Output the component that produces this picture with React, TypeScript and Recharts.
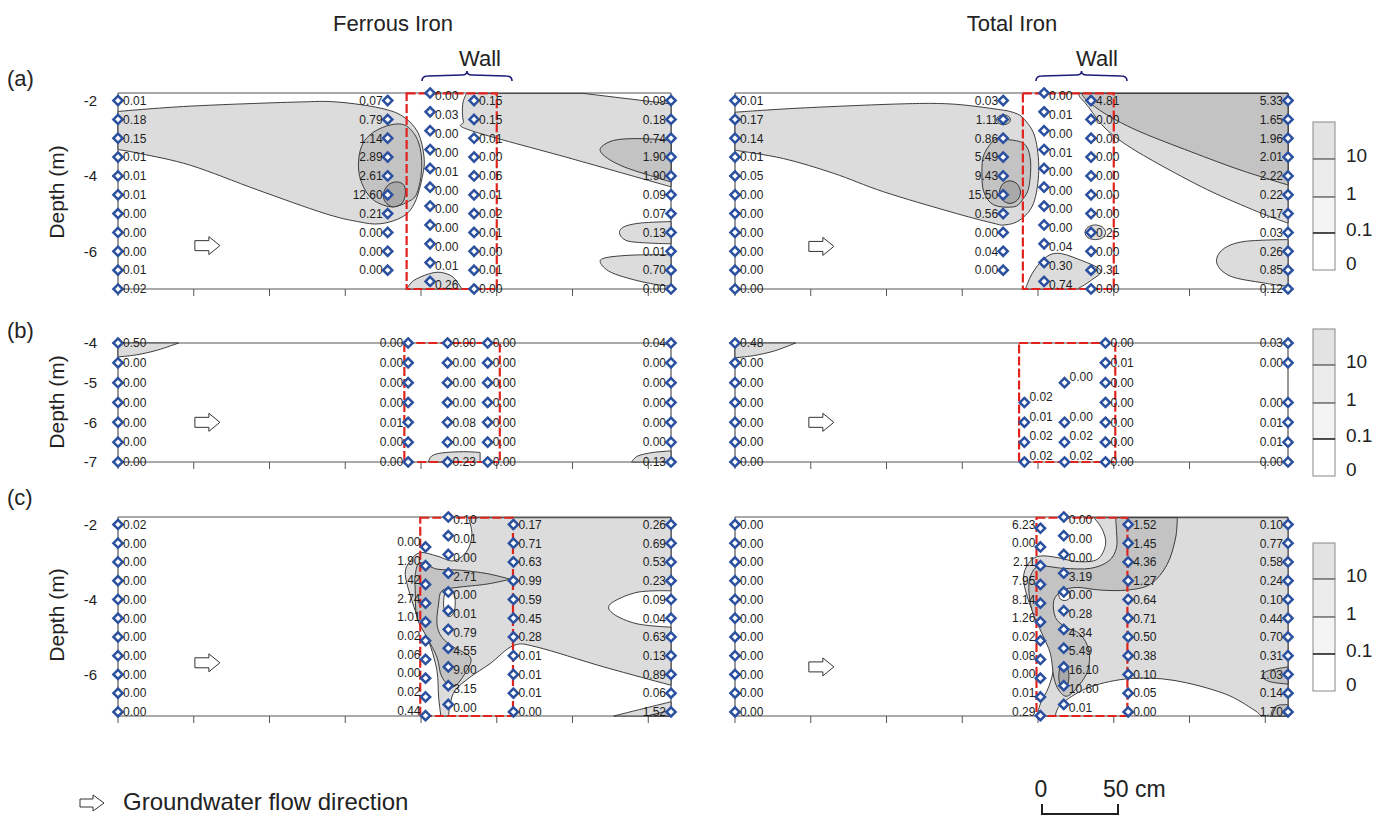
import React from 'react';
import { ScatterChart, Scatter, XAxis, YAxis, LabelList } from 'recharts';

const FONT = '"Liberation Sans", Arial, sans-serif';

// horizontal position in cm along the transect, depth in m
const X_TICKS = [0, 50, 100, 150, 200, 250, 300, 350];

const DEPTH_11 = [-2, -2.5, -3, -3.5, -4, -4.5, -5, -5.5, -6, -6.5, -7];
const DEPTH_10 = [-2, -2.5, -3, -3.5, -4, -4.5, -5, -5.5, -6, -6.5];
const DEPTH_WALL = [-1.8, -2.3, -2.8, -3.3, -3.8, -4.3, -4.8, -5.3, -5.8, -6.3, -6.8];
const DEPTH_B = [-4, -4.5, -5, -5.5, -6, -6.5, -7];
const DEPTH_C_FE_IN = [-2.6, -3.1, -3.6, -4.1, -4.6, -5.1, -5.6, -6.1, -6.6, -7.1];
const DEPTH_C_TOT_IN = [-2.1, -2.6, -3.1, -3.6, -4.1, -4.6, -5.1, -5.6, -6.1, -6.6, -7.1];

// (a) ferrous iron
const feA0 = [0.01, 0.18, 0.15, 0.01, 0.01, 0.01, 0.0, 0.0, 0.0, 0.01, 0.02];
const feA1 = [0.07, 0.79, 1.14, 2.89, 2.61, 12.6, 0.21, 0.0, 0.0, 0.0];
const feA2 = [0.0, 0.03, 0.0, 0.0, 0.01, 0.0, 0.0, 0.0, 0.0, 0.01, 0.26];
const feA3 = [0.15, 0.15, 0.01, 0.0, 0.06, 0.01, 0.02, 0.01, 0.0, 0.01, 0.0];
const feA4 = [0.09, 0.18, 0.74, 1.9, 1.9, 0.09, 0.07, 0.13, 0.01, 0.7, 0.0];
// (a) total iron
const totA0 = [0.01, 0.17, 0.14, 0.01, 0.05, 0.0, 0.0, 0.0, 0.0, 0.0, 0.0];
const totA1 = [0.03, 1.11, 0.86, 5.49, 9.43, 15.5, 0.56, 0.0, 0.04, 0.0];
const totA2 = [0.0, 0.01, 0.0, 0.01, 0.0, 0.0, 0.0, 0.0, 0.04, 0.3, 0.74];
const totA3 = [4.81, 0.0, 0.0, 0.0, 0.0, 0.0, 0.0, 0.25, 0.0, 0.31, 0.0];
const totA4 = [5.33, 1.65, 1.96, 2.01, 2.22, 0.22, 0.17, 0.03, 0.26, 0.85, 0.12];

// (b) ferrous iron
const feB0 = [0.5, 0.0, 0.0, 0.0, 0.0, 0.0, 0.0];
const feB1 = [0.0, 0.0, 0.0, 0.0, 0.01, 0.0, 0.0];
const feB2 = [0.0, 0.0, 0.0, 0.0, 0.08, 0.0, 0.23];
const feB3 = [0.0, 0.0, 0.0, 0.0, 0.0, 0.0, 0.0];
const feB4 = [0.04, 0.0, 0.0, 0.0, 0.0, 0.0, 0.13];
// (b) total iron
const totB0 = [0.48, 0.0, 0.0, 0.0, 0.0, 0.0, 0.0];
const totB1Depth = [-5.5, -6, -6.5, -7];
const totB1 = [0.02, 0.01, 0.02, 0.02];
const totB2Depth = [-5, -6, -6.5, -7];
const totB2 = [0.0, 0.0, 0.02, 0.02];
const totB3 = [0.0, 0.01, 0.0, 0.0, 0.0, 0.0, 0.0];
const totB4Depth = [-4, -4.5, -5.5, -6, -6.5, -7];
const totB4 = [0.03, 0.0, 0.0, 0.01, 0.01, 0.0];

// (c) ferrous iron
const feC0 = [0.02, 0.0, 0.0, 0.0, 0.0, 0.0, 0.0, 0.0, 0.0, 0.0, 0.0];
const feC1 = [0.0, 1.9, 1.42, 2.74, 1.01, 0.02, 0.06, 0.0, 0.02, 0.44];
const feC2 = [0.1, 0.01, 0.0, 2.71, 0.0, 0.01, 0.79, 4.55, 9.0, 3.15, 0.0];
const feC3 = [0.17, 0.71, 0.63, 0.99, 0.59, 0.45, 0.28, 0.01, 0.01, 0.01, 0.0];
const feC4 = [0.26, 0.69, 0.53, 0.23, 0.09, 0.04, 0.63, 0.13, 0.89, 0.06, 1.52];
// (c) total iron
const totC0 = [0.0, 0.0, 0.0, 0.0, 0.0, 0.0, 0.0, 0.0, 0.0, 0.0, 0.0];
const totC1 = [6.23, 0.0, 2.11, 7.95, 8.14, 1.26, 0.02, 0.08, 0.0, 0.01, 0.29];
const totC2 = [0.0, 0.0, 0.0, 3.19, 0.0, 0.28, 4.34, 5.49, 16.1, 10.6, 0.01];
const totC3 = [1.52, 1.45, 4.36, 1.27, 0.64, 0.71, 0.5, 0.38, 0.1, 0.05, 0.0];
const totC4 = [0.1, 0.77, 0.58, 0.24, 0.1, 0.44, 0.7, 0.31, 1.03, 0.14, 1.7];

// contour outlines [x cm, depth m, 1 = sharp corner]
const A_FE_L1 = [[0, -2.29, 1], [47, -2.15], [118, -2.04], [145, -2.04], [173, -2.2], [188, -2.42], [198, -2.85], [202, -3.5], [201, -4.0], [196, -4.7], [188, -5.08], [173, -5.27], [158, -5.21], [136, -4.99], [92, -4.37], [48, -3.72], [15, -3.41], [0, -3.3, 1]];
const A_FE_M1 = [[168.6, -2.84], [180.7, -2.64], [190.6, -2.68], [198.3, -3.1], [200.5, -3.76], [197.3, -4.46], [190.6, -4.7], [180, -4.82], [168, -4.62], [161, -4.2], [158.7, -3.72], [161, -3.19]];
const A_FE_D1 = [[176, -4.66], [175.5, -4.42], [179, -4.22], [184.5, -4.16], [189, -4.26], [189.5, -4.52], [187, -4.74], [181, -4.82]];
const A_FE_L2 = [[230, -1.81, 1], [307, -1.81, 1], [365, -2.09, 1], [365, -4.29, 1], [300, -3.55], [232.5, -2.79], [228, -2.55], [227.5, -2.1]];
const A_FE_M2 = [[365, -3.05, 1], [342.6, -3.01], [327, -3.06], [318.4, -3.27], [322, -3.5], [334, -3.76], [353.6, -4.02], [365, -4.16, 1]];
const A_FE_L3 = [[365, -5.21, 1], [345, -5.25], [334, -5.35], [331, -5.52], [336, -5.72], [350, -5.78], [365, -5.8, 1]];
const A_FE_L4 = [[365, -6.09, 1], [340, -6.1], [322, -6.17], [318.4, -6.3], [325, -6.55], [340, -6.75], [355, -6.88], [365, -6.93, 1]];
const A_FE_L5 = [[190.6, -7, 1], [195, -6.78], [205, -6.6], [213, -6.56], [221, -6.68], [227, -7, 1]];

const A_TOT_L1 = [[0, -2.31, 1], [43, -2.2], [109, -2.09], [142, -2.09], [171, -2.22], [184, -2.32], [191, -2.5], [198, -2.97], [200.5, -3.85], [197, -4.73], [188, -5.17], [178, -5.3], [169, -5.24], [142, -4.95], [98, -4.42], [65, -3.93], [32, -3.54], [0, -3.32, 1]];
const A_TOT_M1 = [[170.8, -3.06], [177.4, -3.03], [190.6, -3.14], [195, -3.58], [194, -4.29], [189.6, -4.64], [184, -4.82], [170.8, -4.77], [164.2, -4.42], [163, -3.9], [164.2, -3.45]];
const A_TOT_M2 = [[172.6, -2.51], [174, -2.42], [177.2, -2.38], [180.5, -2.42], [181.8, -2.51], [180.5, -2.6], [177.2, -2.64], [174, -2.6]];
const A_TOT_D1 = [[174.6, -4.43], [176.6, -4.22], [181.5, -4.13], [186.4, -4.22], [188.4, -4.43], [186.4, -4.64], [181.5, -4.73], [176.6, -4.64]];
const A_TOT_L2 = [[227, -1.81, 1], [365, -1.81, 1], [365, -5.25, 1], [345, -4.95], [312, -4.37], [279, -3.67], [257, -3.14], [243.5, -2.7], [232.5, -2.13], [227.5, -1.9]];
const A_TOT_M3 = [[229, -1.81, 1], [365, -1.81, 1], [365, -4.24, 1], [334, -3.85], [301, -3.36], [268, -2.84], [248, -2.44], [235, -2.09], [230, -1.9]];
const A_TOT_L3 = [[231, -5.5], [233, -5.36], [237.8, -5.3], [242.6, -5.36], [244.6, -5.5], [242.6, -5.64], [237.8, -5.69], [233, -5.64]];
const A_TOT_L4 = [[191.7, -7, 1], [196, -6.6], [203.8, -6.2], [212.7, -6.05], [226, -6.2], [241.3, -6.5], [234.7, -6.78], [226, -7, 1]];
const A_TOT_L5 = [[365, -5.69, 1], [336, -5.74], [322, -5.95], [318, -6.31], [327, -6.66], [349, -6.84], [365, -6.93, 1]];

const B_FE_L1 = [[0, -4, 1], [40, -4, 1], [26, -4.18], [12, -4.3], [0, -4.35, 1]];
const B_FE_L2 = [[205, -7, 1], [207, -6.85], [214, -6.77], [228, -6.74], [239, -6.76, 1], [239, -7, 1]];
const B_FE_L3 = [[339, -7, 1], [343, -6.85], [353, -6.76], [365, -6.72, 1], [365, -7, 1]];
const B_TOT_L1 = [[0, -4, 1], [40, -4, 1], [26, -4.2], [12, -4.32], [0, -4.37, 1]];

const C_FE_L1 = [[231.4, -1.82, 1], [365, -1.82, 1], [365, -3.77, 1], [342.6, -3.81], [325, -4.12], [327.2, -4.39], [342.6, -4.65], [365, -4.74, 1], [365, -6.29, 1], [320.6, -5.8], [276.5, -5.27], [261.1, -5.23], [245.7, -5.71], [232.5, -6.07], [222.6, -6.42], [219.3, -6.78], [218.2, -7.11, 1], [213.1, -7.11, 1], [211.6, -6.6], [210.5, -5.89], [205, -5.1], [199.5, -4.65], [194, -4.03], [189.6, -3.33], [192.9, -2.97], [199.5, -2.75], [210.5, -2.84], [221.5, -2.97], [230.3, -2.71], [233.6, -2.27]];
const C_FE_M1 = [[199.5, -3.02], [210.5, -3.19], [225.9, -3.22], [243.5, -3.31], [258.9, -3.46, 1], [243.5, -3.59], [223.7, -3.68], [213.8, -3.77], [211.6, -4.12], [210.5, -4.65], [213.8, -5.01], [221.5, -5.27], [232.5, -5.54], [230.3, -5.89], [221.5, -6.33], [213.8, -6.07], [210.5, -5.54], [203.9, -5.01], [197.3, -4.48], [196.2, -3.77], [196.2, -3.33]];
const C_FE_H1 = [[214.9, -4.09], [215.8, -3.83], [218.7, -3.72], [221.6, -3.83], [222.6, -4.09], [221.6, -4.35], [218.7, -4.46], [215.8, -4.35]];
const C_FE_L2 = [[327.2, -7.11, 1], [347, -6.91], [365, -6.73, 1], [365, -7.11, 1]];
const C_FE_M2 = [[349.2, -7.11, 1], [365, -6.95, 1], [365, -7.11, 1]];

const C_TOT_L1 = [[236.9, -1.82, 1], [365, -1.82, 1], [365, -7.11, 1], [347, -7.11, 1], [342.6, -6.95], [322.8, -6.51], [289.7, -6.16], [261.1, -6.11], [234.7, -6.33], [217, -6.73], [212.6, -6.95], [211.5, -7.11, 1], [199.4, -7.11, 1], [201.6, -6.78], [207.1, -6.33], [210.4, -5.8], [209.3, -5.27], [203.8, -4.83], [197.2, -4.39], [191.8, -3.77], [190.6, -3.33], [195, -2.97], [201.6, -2.84], [212.6, -2.88], [225.9, -2.99], [239.1, -2.93], [244.6, -2.53], [242.4, -2.13]];
const C_TOT_M1 = [[251.2, -1.82, 1], [291.9, -1.82, 1], [290.8, -2.36], [285.3, -3.06], [274.3, -3.59], [258.9, -3.75], [241.3, -3.75], [225.9, -3.68], [215.9, -3.77], [210.4, -4.03], [211.5, -4.48], [218.2, -4.74], [227.7, -4.92], [233.6, -5.36], [232.9, -5.89], [227, -6.29], [219.3, -6.58], [213.7, -6.42], [210.4, -6.07], [208.2, -5.45], [202.7, -4.92], [196.1, -4.3], [193.9, -3.68], [196.1, -3.28], [201.6, -3.11], [217, -3.17], [234.7, -3.17], [246.8, -2.97], [251.8, -2.62], [251.8, -2.18]];
const C_TOT_D1 = [[213.7, -6.05], [214.7, -5.78], [217, -5.67], [219.3, -5.78], [220.4, -6.05], [219.3, -6.32], [217, -6.42], [214.7, -6.32]];
const C_TOT_H1 = [[213.7, -3.88], [214.8, -3.77], [217.5, -3.72], [220.2, -3.77], [221.4, -3.88], [220.2, -3.99], [217.5, -4.03], [214.8, -3.99]];
const C_TOT_M2 = [[365, -5.8, 1], [351.4, -5.91], [348.1, -6.07], [353.6, -6.2], [365, -6.26, 1]];
const C_TOT_M3 = [[353.6, -7.11, 1], [355.3, -6.91], [359.1, -6.82], [365, -6.81, 1], [365, -7.11, 1]];

const LEGEND_LEVELS = ['10', '1', '0.1', '0'];

const LIGHT = '#dcdcdc';
const MID = '#c3c3c3';
const DARK = '#a9a9a9';
const HOLE = '#ffffff';

type Col = { x: number; depths: number[]; values: number[]; side: 'l' | 'r'; dy?: number };
type Contour = { pts: number[][]; fill: string };
type PanelDef = {
  left: number; top: number; w: number; h: number;
  domain: [number, number]; ticks: number[]; labels: boolean;
  cols: Col[]; contours: Contour[]; wall: [number, number]; arrow: [number, number];
};

const ML = 40;
const MR = 14;
const MT = 14;
const MB = 14;

function smoothPath(pts: { x: number; y: number }[], corner: boolean[]) {
  const n = pts.length;
  if (!n) return '';
  const P = (i: number) => pts[(i + n) % n];
  const C = (i: number) => corner[(i + n) % n];
  let d = `M${pts[0].x},${pts[0].y}`;
  const k = 1 / 6;
  for (let i = 0; i < n; i++) {
    const p0 = P(i - 1), p1 = P(i), p2 = P(i + 1), p3 = P(i + 2);
    if (C(i) && C(i + 1)) {
      d += `L${p2.x},${p2.y}`;
      continue;
    }
    const c1 = C(i) ? p1 : { x: p1.x + (p2.x - p0.x) * k, y: p1.y + (p2.y - p0.y) * k };
    const c2 = C(i + 1) ? p2 : { x: p2.x - (p3.x - p1.x) * k, y: p2.y - (p3.y - p1.y) * k };
    d += `C${c1.x},${c1.y} ${c2.x},${c2.y} ${p2.x},${p2.y}`;
  }
  return d + 'Z';
}

const Empty = () => <g />;

const Diamond = (props: any) => {
  const { cx, cy } = props;
  const r = 4.6;
  return (
    <path
      d={`M${cx},${cy - r}L${cx + r},${cy}L${cx},${cy + r}L${cx - r},${cy}Z`}
      fill="#ffffff"
      stroke="#2b509f"
      strokeWidth={2.5}
    />
  );
};

const FlowArrow = (props: any) => {
  const { cx, cy } = props;
  const x0 = cx - 12.5;
  return (
    <path
      d={`M${x0},${cy - 5}L${x0 + 14},${cy - 5}L${x0 + 14},${cy - 9}L${x0 + 25},${cy}L${x0 + 14},${cy + 9}L${x0 + 14},${cy + 5}L${x0},${cy + 5}Z`}
      fill="#ffffff"
      stroke="#333333"
      strokeWidth={1}
    />
  );
};

const makeLabel = (side: 'l' | 'r', dy: number) => (props: any) => {
  const vb = props.viewBox ?? props;
  const cx = (vb.x ?? 0) + (vb.width ?? 0) / 2;
  const cy = (vb.y ?? 0) + (vb.height ?? 0) / 2;
  return (
    <text
      x={side === 'r' ? cx + 5 : cx - 5}
      y={cy + dy}
      dy="0.36em"
      textAnchor={side === 'r' ? 'start' : 'end'}
      fontSize={12}
      fontFamily={FONT}
      fill="#1e1e1e"
    >
      {Number(props.value).toFixed(2)}
    </text>
  );
};

function Panel({ p }: { p: PanelDef }) {
  const [lo, hi] = p.domain;
  const wallPts = [
    { x: p.wall[0], y: hi },
    { x: p.wall[1], y: hi },
    { x: p.wall[1], y: lo },
    { x: p.wall[0], y: lo },
  ];
  const axisColor = '#555555';
  return (
    <div style={{ position: 'absolute', left: p.left - ML, top: p.top - MT }}>
      <ScatterChart
        width={p.w + ML + MR}
        height={p.h + MT + MB}
        margin={{ top: 0, right: 0, bottom: 0, left: 0 }}
      >
        <XAxis type="number" dataKey="x" domain={[0, 365]} ticks={X_TICKS} height={MB} tickSize={7}
          tickFormatter={() => ''} stroke={axisColor} />
        <XAxis xAxisId="top" orientation="top" type="number" dataKey="x" domain={[0, 365]} ticks={X_TICKS}
          height={MT} tickSize={7} tickFormatter={() => ''} stroke={axisColor} />
        <YAxis type="number" dataKey="y" domain={p.domain} ticks={p.ticks} width={ML} tickSize={6}
          tickMargin={15} stroke="#333333"
          tick={{ fontSize: 15, fill: '#222222', fontFamily: FONT }}
          tickFormatter={(v: number) => (p.labels ? String(v) : '')} />
        <YAxis yAxisId="right" orientation="right" type="number" dataKey="y" domain={p.domain} ticks={p.ticks}
          width={MR} tickSize={6} tickFormatter={() => ''} stroke="#333333" />
        {p.contours.map((ct, i) => (
          <Scatter
            key={'ct' + i}
            data={ct.pts.map((q) => ({ x: q[0], y: q[1] }))}
            shape={Empty}
            isAnimationActive={false}
            line={(lp: any) => (
              <path
                d={smoothPath(lp.points, ct.pts.map((q) => q[2] === 1))}
                fill={ct.fill}
                stroke="#2a2a2a"
                strokeWidth={0.9}
              />
            )}
          />
        ))}
        <Scatter
          data={wallPts}
          shape={Empty}
          isAnimationActive={false}
          line={(lp: any) => (
            <path
              d={smoothPath(lp.points, [true, true, true, true])}
              fill="none"
              stroke="#e0231c"
              strokeWidth={2.2}
              strokeDasharray="9 3"
            />
          )}
        />
        <Scatter data={[{ x: p.arrow[0], y: p.arrow[1] }]} shape={FlowArrow} isAnimationActive={false} />
        {p.cols.map((c, i) => (
          <Scatter
            key={'col' + i}
            data={c.depths.map((d, j) => ({ x: c.x, y: d, v: c.values[j] }))}
            shape={Diamond}
            isAnimationActive={false}
          >
            <LabelList dataKey="v" content={makeLabel(c.side, c.dy ?? 0)} />
          </Scatter>
        ))}
      </ScatterChart>
    </div>
  );
}

const LEFT_X = 118;
const RIGHT_X = 735;
const PW = 553;

const panels: PanelDef[] = [
  {
    left: LEFT_X, top: 93, w: PW, h: 196, domain: [-7, -1.81], ticks: [-2, -4, -6], labels: true,
    wall: [190.5, 250], arrow: [59, -5.85],
    contours: [
      { pts: A_FE_L1, fill: LIGHT }, { pts: A_FE_M1, fill: MID }, { pts: A_FE_D1, fill: DARK },
      { pts: A_FE_L2, fill: LIGHT }, { pts: A_FE_M2, fill: MID }, { pts: A_FE_L3, fill: LIGHT },
      { pts: A_FE_L4, fill: LIGHT }, { pts: A_FE_L5, fill: LIGHT },
    ],
    cols: [
      { x: 0, depths: DEPTH_11, values: feA0, side: 'r' },
      { x: 178, depths: DEPTH_10, values: feA1, side: 'l' },
      { x: 206, depths: DEPTH_WALL, values: feA2, side: 'r', dy: 3 },
      { x: 235, depths: DEPTH_11, values: feA3, side: 'r' },
      { x: 365, depths: DEPTH_11, values: feA4, side: 'l' },
    ],
  },
  {
    left: RIGHT_X, top: 93, w: PW, h: 196, domain: [-7, -1.81], ticks: [-2, -4, -6], labels: false,
    wall: [190, 250], arrow: [57, -5.87],
    contours: [
      { pts: A_TOT_L1, fill: LIGHT }, { pts: A_TOT_M1, fill: MID }, { pts: A_TOT_M2, fill: MID },
      { pts: A_TOT_D1, fill: DARK }, { pts: A_TOT_L2, fill: LIGHT }, { pts: A_TOT_M3, fill: MID },
      { pts: A_TOT_L3, fill: LIGHT }, { pts: A_TOT_L4, fill: LIGHT }, { pts: A_TOT_L5, fill: LIGHT },
    ],
    cols: [
      { x: 0, depths: DEPTH_11, values: totA0, side: 'r' },
      { x: 177, depths: DEPTH_10, values: totA1, side: 'l' },
      { x: 204, depths: DEPTH_WALL, values: totA2, side: 'r', dy: 3 },
      { x: 235, depths: DEPTH_11, values: totA3, side: 'r' },
      { x: 365, depths: DEPTH_11, values: totA4, side: 'l' },
    ],
  },
  {
    left: LEFT_X, top: 343, w: PW, h: 119, domain: [-7, -4], ticks: [-4, -5, -6, -7], labels: true,
    wall: [189, 252], arrow: [59, -6],
    contours: [{ pts: B_FE_L1, fill: LIGHT }, { pts: B_FE_L2, fill: LIGHT }, { pts: B_FE_L3, fill: LIGHT }],
    cols: [
      { x: 0, depths: DEPTH_B, values: feB0, side: 'r' },
      { x: 191.5, depths: DEPTH_B, values: feB1, side: 'l' },
      { x: 217.5, depths: DEPTH_B, values: feB2, side: 'r' },
      { x: 244, depths: DEPTH_B, values: feB3, side: 'r' },
      { x: 365, depths: DEPTH_B, values: feB4, side: 'l' },
    ],
  },
  {
    left: RIGHT_X, top: 343, w: PW, h: 119, domain: [-7, -4], ticks: [-4, -5, -6, -7], labels: false,
    wall: [187.5, 251], arrow: [57, -6],
    contours: [{ pts: B_TOT_L1, fill: LIGHT }],
    cols: [
      { x: 0, depths: DEPTH_B, values: totB0, side: 'r' },
      { x: 191, depths: totB1Depth, values: totB1, side: 'r', dy: -6 },
      { x: 217.5, depths: totB2Depth, values: totB2, side: 'r', dy: -6 },
      { x: 244.5, depths: DEPTH_B, values: totB3, side: 'r' },
      { x: 365, depths: totB4Depth, values: totB4, side: 'l' },
    ],
  },
  {
    left: LEFT_X, top: 517, w: PW, h: 199, domain: [-7.11, -1.82], ticks: [-2, -4, -6], labels: true,
    wall: [199.5, 260.7], arrow: [59, -5.69],
    contours: [
      { pts: C_FE_L1, fill: LIGHT }, { pts: C_FE_M1, fill: MID }, { pts: C_FE_H1, fill: HOLE },
      { pts: C_FE_L2, fill: LIGHT }, { pts: C_FE_M2, fill: MID },
    ],
    cols: [
      { x: 0, depths: DEPTH_11, values: feC0, side: 'r' },
      { x: 203, depths: DEPTH_C_FE_IN, values: feC1, side: 'l', dy: -5 },
      { x: 218, depths: DEPTH_WALL, values: feC2, side: 'r', dy: 3 },
      { x: 261, depths: DEPTH_11, values: feC3, side: 'r' },
      { x: 365, depths: DEPTH_11, values: feC4, side: 'l' },
    ],
  },
  {
    left: RIGHT_X, top: 517, w: PW, h: 199, domain: [-7.11, -1.82], ticks: [-2, -4, -6], labels: false,
    wall: [199, 259], arrow: [57, -5.8],
    contours: [
      { pts: C_TOT_L1, fill: LIGHT }, { pts: C_TOT_M1, fill: MID }, { pts: C_TOT_D1, fill: DARK },
      { pts: C_TOT_H1, fill: HOLE }, { pts: C_TOT_M2, fill: MID }, { pts: C_TOT_M3, fill: MID },
    ],
    cols: [
      { x: 0, depths: DEPTH_11, values: totC0, side: 'r' },
      { x: 201.6, depths: DEPTH_C_TOT_IN, values: totC1, side: 'l', dy: -4 },
      { x: 217, depths: DEPTH_WALL, values: totC2, side: 'r', dy: 3 },
      { x: 259.5, depths: DEPTH_11, values: totC3, side: 'r' },
      { x: 365, depths: DEPTH_11, values: totC4, side: 'l' },
    ],
  },
];

const legendBoxes = [
  { top: 122, lines: [159, 197, 233], bottom: 270 },
  { top: 329, lines: [365, 403, 439], bottom: 476 },
  { top: 543, lines: [579, 617, 654], bottom: 691 },
];
const LEGEND_FILLS = ['#e3e3e3', '#ececec', '#f4f4f4', '#ffffff'];

function Legend({ top, lines, bottom }: { top: number; lines: number[]; bottom: number }) {
  const edges = [top, ...lines, bottom];
  return (
    <g>
      {LEGEND_FILLS.map((f, i) => (
        <rect key={i} x={1313} y={edges[i]} width={22} height={edges[i + 1] - edges[i]} fill={f} stroke="#888" strokeWidth={1} />
      ))}
      {lines.map((y, i) => (
        <line key={'l' + i} x1={1313} x2={1335} y1={y} y2={y} stroke={i === 2 ? '#222' : '#666'} strokeWidth={i === 2 ? 1.4 : 1} />
      ))}
      {LEGEND_LEVELS.map((t, i) => (
        <text key={t} x={1346} y={(i < 3 ? lines[i] - 4 : bottom - 7)} dy="0.35em" fontSize={19} fontFamily={FONT} fill="#222">
          {t}
        </text>
      ))}
    </g>
  );
}

function Brace({ x0, x1 }: { x0: number; x1: number }) {
  const m = (x0 + x1) / 2;
  return (
    <path
      d={`M${x0},81 Q${x0},76 ${x0 + 6},76 L${m - 5},75 Q${m},75 ${m},71 Q${m},75 ${m + 5},75 L${x1 - 6},76 Q${x1},76 ${x1},81`}
      fill="none"
      stroke="#1d1d78"
      strokeWidth={1.6}
    />
  );
}

export default function App() {
  return (
    <div style={{ position: 'absolute', left: 0, top: 0, width: 1385, height: 817, background: '#fff', fontFamily: FONT }}>
      {panels.map((p, i) => (
        <Panel key={i} p={p} />
      ))}
      <svg width={1385} height={817} style={{ position: 'absolute', left: 0, top: 0, pointerEvents: 'none' }}>
        <text x={393} y={31} textAnchor="middle" fontSize={22} fontFamily={FONT} fill="#222">Ferrous Iron</text>
        <text x={1012} y={31} textAnchor="middle" fontSize={22} fontFamily={FONT} fill="#222">Total Iron</text>
        <text x={480} y={66} textAnchor="middle" fontSize={22} fontFamily={FONT} fill="#222">Wall</text>
        <text x={1097} y={66} textAnchor="middle" fontSize={22} fontFamily={FONT} fill="#222">Wall</text>
        <Brace x0={422} x1={512} />
        <Brace x0={1036} x1={1127} />
        <text x={7} y={86} fontSize={22} fontFamily={FONT} fill="#222">(a)</text>
        <text x={7} y={338} fontSize={22} fontFamily={FONT} fill="#222">(b)</text>
        <text x={7} y={505} fontSize={22} fontFamily={FONT} fill="#222">(c)</text>
        {[192, 402, 615].map((y) => (
          <text key={y} x={57} y={y} transform={`rotate(-90 57 ${y})`} textAnchor="middle" dy="0.35em" fontSize={21} fontFamily={FONT} fill="#222">
            Depth (m)
          </text>
        ))}
        {legendBoxes.map((b, i) => (
          <Legend key={i} {...b} />
        ))}
        <path d="M80,799 L93,799 L93,795 L104,803 L93,811 L93,807 L80,807 Z" fill="#fff" stroke="#333" strokeWidth={1} />
        <text x={123} y={810} fontSize={24} fontFamily={FONT} fill="#222">Groundwater flow direction</text>
        <text x={1041} y={797} textAnchor="middle" fontSize={23} fontFamily={FONT} fill="#222">0</text>
        <text x={1103} y={797} fontSize={23} fontFamily={FONT} fill="#222">50 cm</text>
        <path d="M1042,804 L1042,814 L1118,814 L1118,804" fill="none" stroke="#222" strokeWidth={2} />
      </svg>
    </div>
  );
}
